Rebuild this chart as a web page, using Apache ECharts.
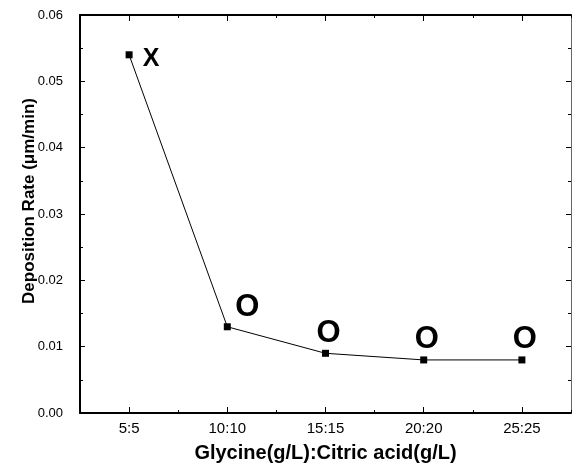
<!DOCTYPE html>
<html>
<head>
<meta charset="utf-8">
<script src="https://cdn.jsdelivr.net/npm/echarts@6/dist/echarts.min.js"></script>
<style>html,body{margin:0;padding:0;background:#fff}#c{width:572px;height:469px}</style>
</head>
<body>
<div id="c"></div>
<script>
var categories = ['5:5', '10:10', '15:15', '20:20', '25:25'];
var rates = [0.054, 0.013, 0.009, 0.008, 0.008];
var marks = ['X', 'O', 'O', 'O', 'O'];
var yTicks = [0, 0.01, 0.02, 0.03, 0.04, 0.05, 0.06];

var FONT = '"Liberation Sans", Arial, sans-serif';
var chart = echarts.init(document.getElementById('c'), null, {renderer: 'canvas'});

function markLabel(i) {
  var off = i === 0 ? [22, 4] : (i === 1 ? [20, -19] : [3, -20]);
  return {
    show: true,
    position: 'inside',
    offset: off,
    formatter: marks[i],
    fontFamily: FONT,
    fontWeight: 'bold',
    fontSize: i === 0 ? 25 : 31,
    color: '#000'
  };
}

function catAxis(pos, showLabel, major) {
  return {
    type: 'category',
    data: categories,
    position: pos,
    boundaryGap: true,
    axisLine: {show: major, lineStyle: {color: '#000', width: 2}},
    axisTick: {show: true, inside: true, alignWithLabel: major, length: major ? 6 : 3, lineStyle: {color: '#000', width: 1}},
    axisLabel: {show: showLabel, color: '#000', fontFamily: FONT, fontSize: 15, margin: 8},
    splitLine: {show: false}
  };
}

var xAxes = [catAxis('bottom', true, true), catAxis('bottom', false, false), catAxis('top', false, true), catAxis('top', false, false)];
xAxes[0].name = 'Glycine(g/L):Citric acid(g/L)';
xAxes[0].nameLocation = 'middle';
xAxes[0].nameGap = 30;
xAxes[0].nameTextStyle = {color: '#000', fontFamily: FONT, fontSize: 20, fontWeight: 'bold'};

function valAxis(pos, left) {
  return {
    type: 'value',
    position: pos,
    min: yTicks[0],
    max: yTicks[yTicks.length - 1],
    interval: yTicks[1] - yTicks[0],
    axisLine: {show: true, lineStyle: {color: left ? '#000' : '#666', width: left ? 2 : 1}},
    axisTick: {show: true, inside: true, length: 5, lineStyle: {color: '#000'}},
    minorTick: {show: true, splitNumber: 2, length: 3, lineStyle: {color: '#000'}},
    axisLabel: {show: left, color: '#000', fontFamily: FONT, fontSize: 13, margin: 17,
      formatter: function (v) { return v.toFixed(2); }},
    splitLine: {show: false}
  };
}
var yAxes = [valAxis('left', true), valAxis('right', false)];
yAxes[0].name = 'Deposition Rate (\u03bcm/min)';
yAxes[0].nameLocation = 'middle';
yAxes[0].nameGap = 42;
yAxes[0].nameMoveOverlap = false;
yAxes[0].nameTextStyle = {color: '#000', fontFamily: FONT, fontSize: 17, fontWeight: 'bold', padding: [0, 0, 0, 26]};

chart.setOption({
  animation: false,
  backgroundColor: '#fff',
  grid: {left: 80, right: 1, top: 15, bottom: 56, containLabel: false, outerBoundsMode: 'none'},
  xAxis: xAxes,
  yAxis: yAxes,
  series: [{
    type: 'line',
    xAxisIndex: 0,
    yAxisIndex: 0,
    data: rates.map(function (v, i) { return {value: v, label: markLabel(i)}; }),
    symbol: 'rect',
    symbolSize: 7,
    itemStyle: {color: '#000'},
    lineStyle: {color: '#000', width: 1}
  }]
});
</script>
</body>
</html>
